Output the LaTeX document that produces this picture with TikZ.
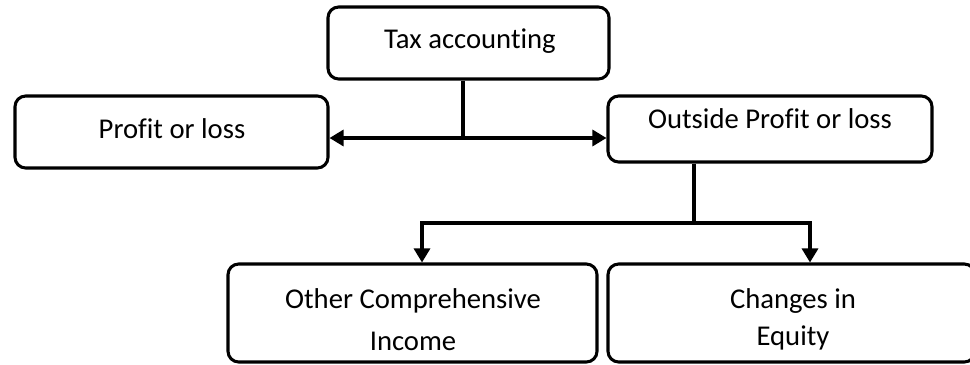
\documentclass[tikz,border=0pt]{standalone}
\usepackage{fontspec}
\setmainfont[Ligatures=CommonOff]{Carlito}
\usetikzlibrary{arrows.meta}
\begin{document}
\begin{tikzpicture}[x=0.75pt,y=-0.75pt,
  box/.style={draw,line width=2.3pt,rounded corners=8pt,inner sep=0pt},
  txt/.style={anchor=base,inner sep=0pt,font=\fontsize{21.5}{26}\selectfont},
  conn/.style={line width=2.3pt},
  arr/.style={conn,-{Triangle[length=10.5pt,width=12pt]}}]
\useasboundingbox (0,0) rectangle (970,364);
\node[box,minimum width=281*0.75pt,minimum height=72*0.75pt] (tax) at (468.5,43) {};
\node[box,minimum width=313*0.75pt,minimum height=72*0.75pt] (pol) at (171.5,132) {};
\node[box,minimum width=324*0.75pt,minimum height=66*0.75pt] (out) at (770,129) {};
\node[box,minimum width=369*0.75pt,minimum height=98*0.75pt] (oci) at (412.5,313) {};
\node[box,minimum width=367*0.75pt,minimum height=98*0.75pt] (chg) at (791.5,313) {};
\node[txt] (taxt) at (470,48) {Tax accounting};
\node[txt] (polt) at (172,138) {Profit or loss};
\node[txt] (outt) at (770,128) {Outside Profit or loss};
\node[txt] (ocit1) at (413,308) {Other Comprehensive};
\node[txt] (ocit2) at (413,350) {Income};
\node[txt] (chgt1) at (793,308) {Changes in};
\node[txt] (chgt2) at (793,345) {Equity};
\coordinate (j1) at (463,138);
\coordinate (j2) at (694,223);
\coordinate (l2) at (422,223);
\coordinate (r2) at (810,223);
\draw[conn] (tax.south -| j1) -- (j1);
\draw[arr] (j1) -- (pol.east |- j1);
\draw[arr] (j1) -- (out.west |- j1);
\draw[conn] (out.south -| j2) -- (j2);
\draw[arr] (j2) -- (l2) -- (oci.north -| l2);
\draw[arr] (j2) -- (r2) -- (chg.north -| r2);
\end{tikzpicture}
\end{document}
